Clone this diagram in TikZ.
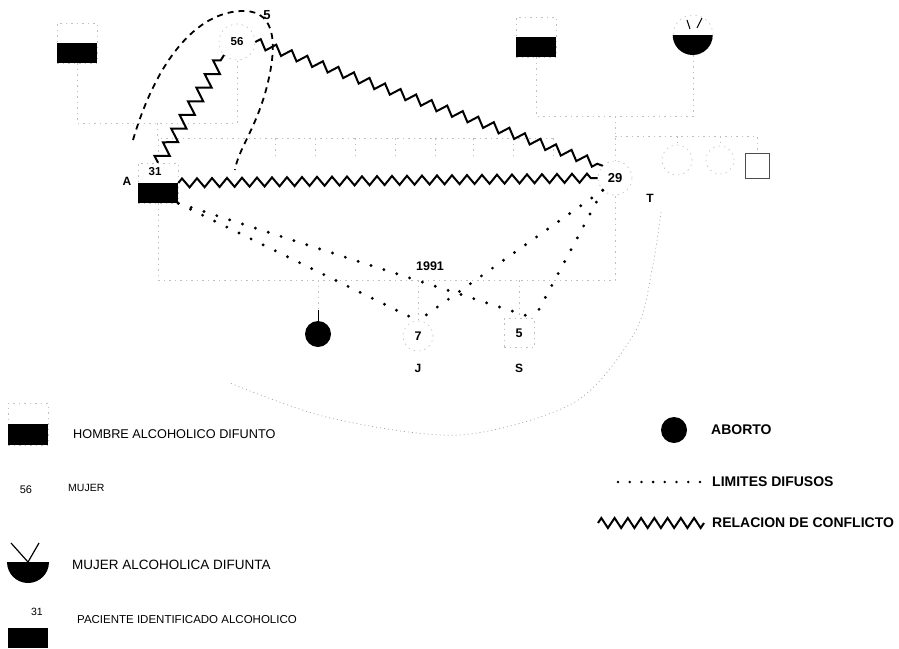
\documentclass[tikz,border=0pt]{standalone}
\usepackage{fontspec}
\setmainfont{Liberation Sans}
\usetikzlibrary{decorations.pathmorphing}
\newcommand{\fsz}[1]{\fontsize{#1}{#1}\selectfont}
\begin{document}
\begin{tikzpicture}[x=1pt,y=-1pt,
 faint/.style={draw=black!25, dash pattern=on 1.5pt off 4pt, line width=0.6pt},
 conflict/.style={draw, decorate, decoration={zigzag, segment length=15pt, amplitude=4.5pt}, line width=2pt, line join=miter},
 diffuse/.style={draw, line width=3.2pt, line cap=round, dash pattern=on 0pt off 13.5pt},
 fusion/.style={draw, line width=1.8pt, dash pattern=on 6pt off 5pt},
 lbl/.style={inner sep=0pt, font=\bfseries\fsz{12}},
 sq/.style={rectangle, faint, minimum width=40pt, minimum height=40pt, inner sep=0pt},
 ci/.style={circle, faint, inner sep=0pt},
 legtxt/.style={anchor=west, inner sep=0pt},
]
\useasboundingbox (0,0) rectangle (899,648);

% ---- persons
\node[sq] (gf1) at (77,43) {};
\fill (gf1.west) rectangle (gf1.south east);
\node[ci, minimum size=36pt, font=\bfseries\fsz{11.5}] (gm1) at (237,42) {56};
\node[sq] (gf2) at (536,37) {};
\fill (gf2.west) rectangle (gf2.south east);
\node[ci, minimum size=40pt] (gm2) at (693,35) {};
\fill (gm2.west) arc[start angle=180, end angle=360, radius=20pt];
\draw[line width=1pt] (687,20) -- (690,29) (702,18) -- (697,28);

\node[sq] (A) at (158,183) {};
\fill (A.west) rectangle (A.south east);
\node[lbl, font=\bfseries\fsz{11.5}] (a31) at (155,172) {31};
\node[lbl] (aA) at (127,181) {A};

\node[ci, minimum size=34pt, font=\bfseries\fsz{13}] (W) at (615,178) {29};
\node[lbl] (tT) at (650,198) {T};

\node[ci, minimum size=30pt] (ws1) at (677,160) {};
\node[ci, minimum size=28pt] (ws2) at (720,160) {};
\node[rectangle, draw=black!70, line width=0.7pt, minimum width=24pt, minimum height=25pt] (ws3) at (757,165.5) {};

\node[circle, fill=black, minimum size=26pt, inner sep=0pt] (ab) at (318,334) {};
\node[ci, minimum size=30pt, font=\bfseries\fsz{12.5}] (J) at (418,336) {7};
\node[lbl] (jJ) at (418,368) {J};
\node[rectangle, faint, minimum width=30pt, minimum height=29pt, inner sep=0pt, font=\bfseries\fsz{12.5}] (S) at (519,333) {5};
\node[lbl] (sS) at (519,368) {S};
\node[lbl, font=\bfseries\fsz{12.5}] (y1991) at (430,266) {1991};
\node[lbl, font=\bfseries\fsz{13}] (five) at (267,15) {5};

% ---- faint family lines
\coordinate (m1) at (157,123);
\coordinate (c1e) at (553,138);
\draw[faint] (gf1.south) |- (m1) -| (gm1.south);
\draw[faint] (m1) -- (m1 |- c1e);
\draw[faint] (A.north) -- (A.north |- c1e) -- (c1e);
\foreach \x in {275,315,355,395,435,473,513,553} \draw[faint] (\x,138) -- (\x,155);

\coordinate (m2) at (615,116);
\coordinate (c2) at (615,136);
\draw[faint] (gf2.south) |- (m2) -| (gm2.south);
\draw[faint] (m2) -- (W.north);
\draw[faint] (c2) -- (ws3.north |- c2) -- (ws3.north);
\draw[faint] (ws1.north |- c2) -- (ws1.north);
\draw[faint] (ws2.north |- c2) -- (ws2.north);

\coordinate (cp) at (318,280);
\draw[faint] (A.south) |- (cp) -| (W.south);
\draw[faint] (cp) -- (ab.north);
\draw[line width=0.8pt] (ab.north) -- ++(0,-11);
\draw[faint] (J.north |- cp) -- (J.north);
\draw[faint] (S.north |- cp) -- (S.north);

\draw[draw=black!35, dash pattern=on 1pt off 3pt, line width=0.7pt]
  plot[smooth] coordinates {(661,212) (652,270) (635,332) (575,402) (460,435) (330,418) (230,383)};

% ---- fusion loop
\coordinate (f1) at (133,140);
\coordinate (f2) at (235,170);
\draw[fusion] (f1) .. controls (155,65) and (195,10) .. (245,11)
   .. controls (276,12) and (278,45) .. (266,90)
   .. controls (255,130) and (238,150) .. (f2);

% ---- conflicts
\draw[conflict, decoration={segment length=16pt, amplitude=6.5pt}] (A.north) -- (gm1.south west);
\draw[conflict, decoration={segment length=16.5pt}] (gm1.east) -- (W.north west);
\draw[conflict] (A.east) -- (W.west);

% ---- diffuse limits
\draw[diffuse] (A.south east) -- (J.north);
\draw[diffuse] (A.south east) -- (S.north east);
\draw[diffuse] (W.south west) -- (J.north);
\draw[diffuse] (W.south west) -- (S.north east);

% ---- legend left
\node[rectangle, faint, minimum width=40pt, minimum height=42pt, inner sep=0pt] (lg1) at (28,424) {};
\fill (lg1.west) rectangle (lg1.south east);
\node[legtxt, font=\fsz{12.7}] (lt1) at (73,434) {HOMBRE ALCOHOLICO DIFUNTO};
\node[inner sep=0pt, font=\fsz{11}] (l56) at (26,490) {56};
\node[legtxt, font=\fsz{10.5}] (lt2) at (68,488) {MUJER};
\coordinate (lg3) at (28,562);
\fill (7,562) arc[start angle=180, end angle=360, radius=21pt];
\draw[line width=1.2pt] (11,543) -- (lg3) -- (39,543);
\node[legtxt, font=\fsz{13.5}] (lt3) at (72,565) {MUJER ALCOHOLICA DIFUNTA};
\node[inner sep=0pt, font=\fsz{10.5}] (l31) at (37,612) {31};
\fill (8,628) rectangle (48,648);
\node[legtxt, font=\fsz{11.5}] (lt4) at (77,620) {PACIENTE IDENTIFICADO ALCOHOLICO};

% ---- legend right
\node[circle, fill=black, minimum size=26pt, inner sep=0pt] (lab) at (674,430) {};
\node[legtxt, font=\bfseries\fsz{14}] (lt5) at (711,430) {ABORTO};
\coordinate (ld1) at (618,482);
\coordinate (ld2) at (700,482);
\draw[draw, line width=2.8pt, line cap=round, dash pattern=on 0pt off 11.7pt] (ld1) -- (ld2);
\node[legtxt, font=\bfseries\fsz{14}] (lt6) at (712,482) {LIMITES DIFUSOS};
\coordinate (lz1) at (598,523);
\coordinate (lz2) at (704,523);
\draw[conflict, decoration={segment length=13.25pt, amplitude=5pt}] (lz1) -- (lz2);
\node[legtxt, font=\bfseries\fsz{14}] (lt7) at (712,523) {RELACION DE CONFLICTO};
\end{tikzpicture}
\end{document}
